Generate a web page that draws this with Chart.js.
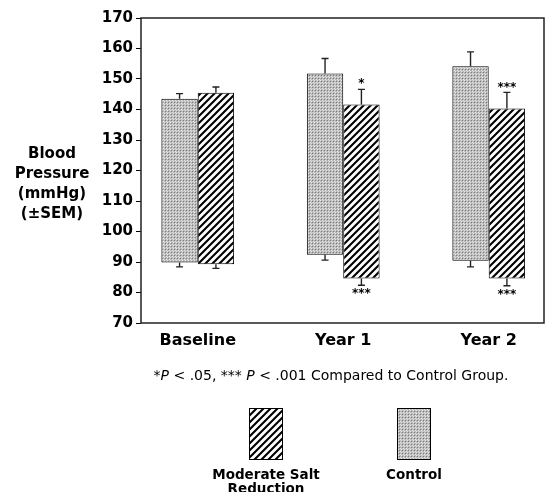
<!DOCTYPE html>
<html>
<head>
<meta charset="utf-8">
<script src="https://cdn.jsdelivr.net/npm/chart.js@4.4.1/dist/chart.umd.min.js"></script>
<style>
html, body { margin: 0; padding: 0; background: #fff; }
</style>
</head>
<body>
<canvas id="grafico" width="546" height="492"></canvas>
<script>
const canva = document.getElementById('grafico');

// datos (mmHg)
const periodos = ['Baseline', 'Year 1', 'Year 2'];
const controlBajo = [89.8, 92.4, 90.4];
const controlAlto = [143.5, 151.8, 154.2];
const controlErrAlto = [145.2, 156.7, 158.9];
const controlErrBajo = [88.4, 90.6, 88.4];
const salBajo = [89.3, 84.6, 84.6];
const salAlto = [145.5, 141.6, 140.3];
const salErrAlto = [147.4, 146.6, 145.6];
const salErrBajo = [87.9, 82.4, 82.2];
const marcasArriba = ['', '*', '***'];
const marcasAbajo = ['', '***', '***'];
const ticksY = [70, 80, 90, 100, 110, 120, 130, 140, 150, 160, 170];
const tituloY = ['Blood', 'Pressure', '(mmHg)', '(\u00b1SEM)'];

const fuente = 'DejaVu Sans, Verdana, sans-serif';

function patronPuntos() {
    const c = document.createElement('canvas');
    c.width = 3; c.height = 3;
    const g = c.getContext('2d');
    g.fillStyle = '#bababa';
    g.fillRect(0, 0, 3, 3);
    g.fillStyle = '#7c7c7c';
    g.fillRect(0, 0, 1, 1);
    g.fillStyle = '#e6e6e6';
    g.fillRect(1, 1, 1, 1);
    g.fillRect(2, 2, 1, 1);
    return g.createPattern(c, 'repeat');
}

function patronRayas() {
    const s = 7;
    const c = document.createElement('canvas');
    c.width = s; c.height = s;
    const g = c.getContext('2d');
    g.fillStyle = '#fff';
    g.fillRect(0, 0, s, s);
    g.strokeStyle = '#000';
    g.lineWidth = 2.1;
    g.beginPath();
    g.moveTo(0, s); g.lineTo(s, 0);
    g.moveTo(-1, 1); g.lineTo(1, -1);
    g.moveTo(s - 1, s + 1); g.lineTo(s + 1, s - 1);
    g.stroke();
    return g.createPattern(c, 'repeat');
}

const rellenoControl = patronPuntos();
const rellenoSal = patronRayas();

const errores = [
    { alto: controlErrAlto, bajo: controlErrBajo, sup: null, inf: null },
    { alto: salErrAlto, bajo: salErrBajo, sup: marcasArriba, inf: marcasAbajo }
];

const extras = {
    id: 'extras',
    afterDatasetsDraw(chart) {
        const ctx = chart.ctx;
        const y = chart.scales.y;
        const a = chart.chartArea;
        ctx.save();
        // marco
        ctx.strokeStyle = '#222';
        ctx.lineWidth = 1.5;
        ctx.strokeRect(a.left, a.top, a.right - a.left, a.bottom - a.top);
        // barras de error
        ctx.lineWidth = 1.4;
        ctx.fillStyle = '#000';
        ctx.textAlign = 'center';
        ctx.font = 'bold 12px ' + fuente;
        errores.forEach((e, d) => {
            const meta = chart.getDatasetMeta(d);
            meta.data.forEach((bar, i) => {
                const top = Math.min(bar.y, bar.base);
                const bot = Math.max(bar.y, bar.base);
                const yA = y.getPixelForValue(e.alto[i]);
                const yB = y.getPixelForValue(e.bajo[i]);
                ctx.beginPath();
                ctx.moveTo(bar.x, top); ctx.lineTo(bar.x, yA);
                ctx.moveTo(bar.x - 3.5, yA); ctx.lineTo(bar.x + 3.5, yA);
                ctx.moveTo(bar.x, bot); ctx.lineTo(bar.x, yB);
                ctx.moveTo(bar.x - 3.5, yB); ctx.lineTo(bar.x + 3.5, yB);
                ctx.stroke();
                if (e.sup && e.sup[i]) {
                    ctx.textBaseline = 'bottom';
                    ctx.fillText(e.sup[i], bar.x, yA + 1);
                }
                if (e.inf && e.inf[i]) {
                    ctx.textBaseline = 'top';
                    ctx.fillText(e.inf[i], bar.x, yB + 3);
                }
            });
        });
        ctx.restore();
    },
    afterDraw(chart) {
        const ctx = chart.ctx;
        ctx.save();
        ctx.fillStyle = '#000';
        ctx.textAlign = 'center';
        ctx.textBaseline = 'middle';
        // titulo del eje y
        ctx.font = 'bold 15px ' + fuente;
        tituloY.forEach((t, i) => ctx.fillText(t, 52, 154 + i * 20));

        // nota al pie
        const partes = [
            ['*', ''], ['P', 'italic '], [' < .05, *** ', ''], ['P', 'italic '], [' < .001 Compared to Control Group.', '']
        ];
        let ancho = 0;
        partes.forEach(p => { ctx.font = p[1] + '14px ' + fuente; ancho += ctx.measureText(p[0]).width; });
        let x = 331 - ancho / 2;
        ctx.textAlign = 'left';
        partes.forEach(p => {
            ctx.font = p[1] + '14px ' + fuente;
            ctx.fillText(p[0], x, 376);
            x += ctx.measureText(p[0]).width;
        });

        // leyenda
        const items = [
            { relleno: rellenoSal, x: 249, lineas: chart.data.datasets[1].label },
            { relleno: rellenoControl, x: 397, lineas: chart.data.datasets[0].label }
        ];
        ctx.textAlign = 'center';
        ctx.font = 'bold 13.5px ' + fuente;
        items.forEach(it => {
            ctx.fillStyle = it.relleno;
            ctx.fillRect(it.x, 408, 33, 51);
            ctx.strokeStyle = '#000';
            ctx.lineWidth = 1;
            ctx.strokeRect(it.x + 0.5, 408.5, 33, 51);
            ctx.fillStyle = '#000';
            it.lineas.forEach((l, k) => ctx.fillText(l, it.x + 17, 475 + k * 14));
        });
        ctx.restore();
    }
};

window.myChart = new Chart(canva, {
    type: 'bar',
    data: {
        datasets: [{
            label: ['Control'],
            data: periodos.map((p, i) => ({ x: i, y: [controlBajo[i], controlAlto[i]] })),
            backgroundColor: rellenoControl,
            borderColor: '#000',
            borderWidth: 1,
            borderSkipped: false
        }, {
            label: ['Moderate Salt', 'Reduction'],
            data: periodos.map((p, i) => ({ x: i, y: [salBajo[i], salAlto[i]] })),
            backgroundColor: rellenoSal,
            borderColor: '#000',
            borderWidth: 1,
            borderSkipped: false
        }]
    },
    options: {
        responsive: false,
        animation: false,
        datasets: { bar: { categoryPercentage: 0.5, barPercentage: 1 } },
        layout: { padding: { top: 18, right: 2, left: 0, bottom: 0 } },
        plugins: { legend: { display: false }, tooltip: { enabled: false } },
        scales: {
            x: {
                type: 'linear',
                offset: false,
                min: -0.39,
                max: 2.38,
                afterBuildTicks: (s) => { s.ticks = periodos.map((p, i) => ({ value: i })); },
                afterFit: (s) => { s.height = 169; },
                ticks: {
                    callback: (v) => periodos[Math.round(v)],
                    font: { family: fuente, size: 16, weight: 'bold' },
                    color: '#000',
                    padding: 0,
                    maxRotation: 0,
                    autoSkip: false
                },
                grid: { display: false },
                border: { display: false }
            },
            y: {
                min: 70,
                max: 170,
                afterBuildTicks: (s) => { s.ticks = ticksY.map(v => ({ value: v })); },
                afterFit: (s) => { s.width = 141; },
                ticks: {
                    font: { family: fuente, size: 15, weight: 'bold' },
                    color: '#000',
                    padding: 3
                },
                grid: { drawOnChartArea: false, tickLength: 5, color: '#000', lineWidth: 1 },
                border: { display: false }
            }
        }
    },
    plugins: [extras]
});
</script>
</body>
</html>
